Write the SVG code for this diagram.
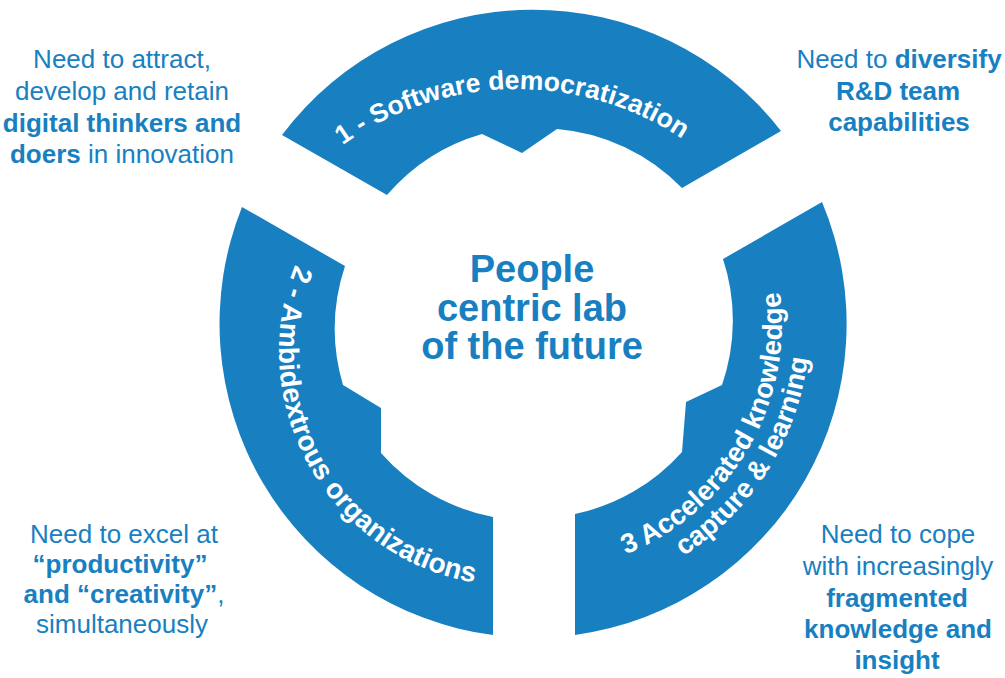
<svg xmlns="http://www.w3.org/2000/svg" width="1005" height="678" viewBox="0 0 1005 678">
  <style>
    .seg{fill:#1880c1}
    .lbl{fill:#fff;font-family:"Liberation Sans",Arial,Helvetica,sans-serif;font-weight:700;font-size:27.5px}
    .note{fill:#1880c1;font-family:"Liberation Sans",Arial,Helvetica,sans-serif;font-size:26px;text-anchor:middle}
    .b{font-weight:700}
    .hub{fill:#1880c1;font-family:"Liberation Sans",Arial,Helvetica,sans-serif;font-weight:700;font-size:38px;text-anchor:middle}
  </style>
  <defs>
    <!-- baselines for the curved segment labels -->
    <path id="arc1" d="M 218,388 A 299 299 0 0 1 816,388"/>
    <path id="arc2" d="M 514,116 A 235 235 0 0 0 514,586"/>
    <path id="arc3a" d="M 534,572 A 248 248 0 0 0 534,76"/>
    <path id="arc3b" d="M 534,600 A 276 276 0 0 0 534,48"/>
  </defs>

  <!-- ring segment 1 (top) -->
  <g id="seg1">
    <path class="seg" d="M 282,135 A 314 314 0 0 1 781,131 L 682,188 A 197 197 0 0 0 557,129 L 522,153 L 482,134 A 197 197 0 0 0 387,195 Z"/>
    <text class="lbl" style="font-size:26.5px"><textPath href="#arc1" startOffset="49.4%" text-anchor="middle">1 - Software democratization</textPath></text>
  </g>

  <!-- ring segment 2 (left) -->
  <g id="seg2">
    <path class="seg" d="M 242,207 A 314 314 0 0 0 493,635 L 493,517 A 199 199 0 0 1 381,453 L 381,408 L 343,385 A 199 199 0 0 1 345,266 Z"/>
    <text class="lbl" style="font-size:28px"><textPath href="#arc2" startOffset="66.3%" text-anchor="middle">2 - Ambidextrous organizations</textPath></text>
  </g>

  <!-- ring segment 3 (right) -->
  <g id="seg3">
    <path class="seg" d="M 822,202 A 314 314 0 0 1 575,635 L 575,514 A 197 197 0 0 0 682,452 L 686,402 L 722,385 A 197 197 0 0 0 723,259 Z"/>
    <text class="lbl"><textPath href="#arc3a" startOffset="33.1%" text-anchor="middle">3 Accelerated knowledge</textPath></text>
    <text class="lbl"><textPath href="#arc3b" startOffset="32.1%" text-anchor="middle">capture &amp; learning</textPath></text>
  </g>

  <!-- hub title -->
  <g id="hub">
    <text class="hub" x="532" y="282">People</text>
    <text class="hub" x="532" y="321">centric lab</text>
    <text class="hub" x="532" y="359">of the future</text>
  </g>

  <!-- surrounding needs -->
  <g id="note-tl">
    <text class="note" x="122" y="68">Need to attract,</text>
    <text class="note" x="122" y="100">develop and retain</text>
    <text class="note b" x="122" y="132">digital thinkers and</text>
    <text class="note" x="122" y="163"><tspan class="b">doers</tspan> in innovation</text>
  </g>

  <g id="note-tr">
    <text class="note" x="899" y="68">Need to <tspan class="b">diversify</tspan></text>
    <text class="note b" x="898" y="100">R&amp;D team</text>
    <text class="note b" x="899" y="131">capabilities</text>
  </g>

  <g id="note-bl">
    <text class="note" x="124" y="543">Need to excel at</text>
    <text class="note b" x="120" y="573">“productivity”</text>
    <text class="note" x="124" y="603"><tspan class="b">and “creativity”</tspan>,</text>
    <text class="note" x="122" y="633">simultaneously</text>
  </g>

  <g id="note-br">
    <text class="note" x="898" y="543">Need to cope</text>
    <text class="note" x="898" y="575">with increasingly</text>
    <text class="note b" x="897" y="607">fragmented</text>
    <text class="note b" x="898" y="638">knowledge and</text>
    <text class="note b" x="897" y="669">insight</text>
  </g>
</svg>
